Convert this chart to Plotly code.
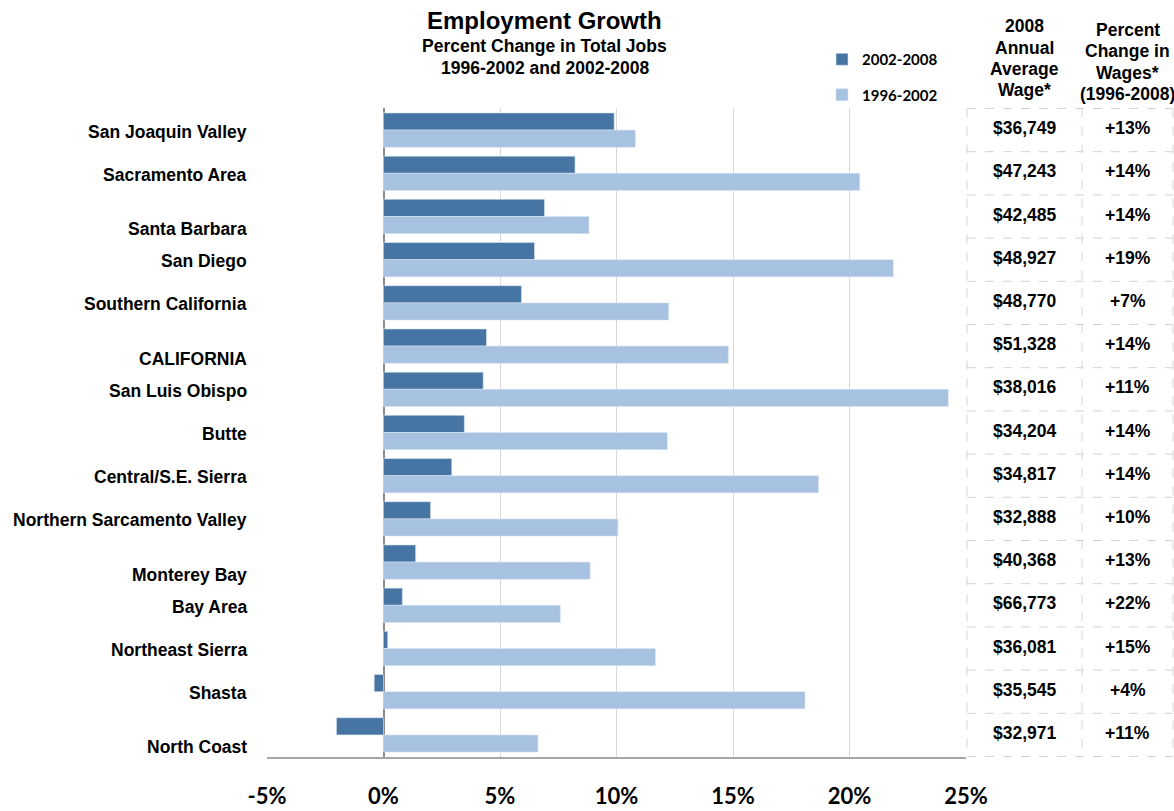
import plotly.graph_objects as go

# ---- data -------------------------------------------------------------
regions = [
    "San Joaquin Valley", "Sacramento Area", "Santa Barbara", "San Diego",
    "Southern California", "CALIFORNIA", "San Luis Obispo", "Butte",
    "Central/S.E. Sierra", "Northern Sarcamento Valley", "Monterey Bay",
    "Bay Area", "Northeast Sierra", "Shasta", "North Coast",
]
growth_2002_2008 = [9.90, 8.22, 6.91, 6.48, 5.92, 4.42, 4.28, 3.47,
                    2.93, 2.02, 1.38, 0.81, 0.18, -0.40, -2.02]
growth_1996_2002 = [10.81, 20.44, 8.82, 21.88, 12.24, 14.80, 24.24, 12.18,
                    18.67, 10.06, 8.87, 7.59, 11.67, 18.09, 6.63]
avg_wage_2008 = ["$36,749", "$47,243", "$42,485", "$48,927", "$48,770",
                 "$51,328", "$38,016", "$34,204", "$34,817", "$32,888",
                 "$40,368", "$66,773", "$36,081", "$35,545", "$32,971"]
wage_change = ["+13%", "+14%", "+14%", "+19%", "+7%", "+14%", "+11%", "+14%",
               "+14%", "+10%", "+13%", "+22%", "+15%", "+4%", "+11%"]
tick_values = [-5, 0, 5, 10, 15, 20, 25]
tick_labels = ["-5%", "0%", "5%", "10%", "15%", "20%", "25%"]

# ---- layout geometry (pixels) ----------------------------------------
W, H = 1174, 811
ML, MR, MT, MB = 267, 208, 108, 54
PW, PH = W - ML - MR, H - MT - MB


def px(x):
    """Horizontal pixel -> paper coordinate."""
    return (x - ML) / PW


def py(y):
    """Vertical pixel (from top) -> paper coordinate."""
    return (H - MB - y) / PH


DARK = "#4674a3"
LIGHT = "#a7c1e0"
ARIAL = "Liberation Sans, Arial, sans-serif"
CALIBRI = "Lato, Calibri, sans-serif"

fig = go.Figure()
fig.add_trace(go.Bar(
    y=regions, x=growth_2002_2008, orientation="h", name="2002-2008",
    legendgroup="a", marker=dict(color=DARK, line=dict(color="#dbe5f1", width=0.6)),
))
fig.add_trace(go.Bar(
    y=regions, x=growth_1996_2002, orientation="h", name="1996-2002",
    legendgroup="b", marker=dict(color=LIGHT, line=dict(color="#dbe5f1", width=0.6)),
))

annotations = []

# Region labels on the left; a few of them sit a little lower in their row
lowered = {"Santa Barbara", "CALIFORNIA", "Monterey Bay", "North Coast"}
for name in regions:
    annotations.append(dict(
        x=px(249), y=name, xref="paper", yref="y", text=name, showarrow=False,
        xanchor="right", yanchor="middle",
        yshift=-12.5 if name in lowered else -1.5,
        font=dict(family=ARIAL, size=17.5, color="black", weight="bold"),
    ))

# Wage table to the right of the chart
col1_x, col2_x = px(1024.5), px(1127.5)
for name, wage, chg in zip(regions, avg_wage_2008, wage_change):
    for cx, txt in ((col1_x, wage), (col2_x, chg)):
        annotations.append(dict(
            x=cx, y=name, xref="paper", yref="y", text=txt, showarrow=False,
            xanchor="center", yanchor="middle", yshift=2,
            font=dict(family=ARIAL, size=17.5, color="black", weight="bold"),
        ))

header1 = ["2008", "Annual", "Average", "Wage*"]
header2 = ["Percent", "Change in", "Wages*", "(1996-2008)"]
for i, line in enumerate(header1):
    annotations.append(dict(
        x=col1_x, y=py(26.5 + 21.3 * i), xref="paper", yref="paper", text=line,
        showarrow=False, xanchor="center", yanchor="middle",
        font=dict(family=ARIAL, size=17.5, color="black", weight="bold"),
    ))
for i, line in enumerate(header2):
    annotations.append(dict(
        x=col2_x, y=py(30 + 21.3 * i), xref="paper", yref="paper", text=line,
        showarrow=False, xanchor="center", yanchor="middle",
        font=dict(family=ARIAL, size=17.5, color="black", weight="bold"),
    ))

# Chart title block
title_x = px(544.5)
annotations.append(dict(
    x=title_x, y=py(21), xref="paper", yref="paper", text="Employment Growth",
    showarrow=False, xanchor="center", yanchor="middle",
    font=dict(family=ARIAL, size=24, color="black", weight="bold"),
))
for txt, yy in (("Percent Change in Total Jobs", 46.5), ("1996-2002 and 2002-2008", 68)):
    annotations.append(dict(
        x=title_x, y=py(yy), xref="paper", yref="paper", text=txt,
        showarrow=False, xanchor="center", yanchor="middle",
        font=dict(family=ARIAL, size=17.5, color="black", weight="bold"),
    ))

# Dashed grid of the wage table
shapes = []
grid_line = dict(color="#d4d4d4", width=1, dash="dash")
n = len(regions)
for k in range(n + 1):
    shapes.append(dict(type="line", xref="paper", yref="y",
                       x0=px(967), x1=px(1173), y0=k - 0.5, y1=k - 0.5,
                       line=grid_line))
for xx in (967, 1082, 1173):
    shapes.append(dict(type="line", xref="paper", yref="y",
                       x0=px(xx), x1=px(xx), y0=-0.5, y1=n - 0.5,
                       line=grid_line))

fig.update_layout(
    width=W, height=H,
    margin=dict(l=ML, r=MR, t=MT, b=MB, pad=0, autoexpand=False),
    paper_bgcolor="white", plot_bgcolor="white",
    barmode="group", bargap=0.205, bargroupgap=0,
    showlegend=True,
    legend=dict(
        x=px(822), y=py(43), xref="paper", yref="paper",
        xanchor="left", yanchor="top",
        bgcolor="rgba(0,0,0,0)", tracegroupgap=13, traceorder="grouped",
        font=dict(family=CALIBRI, size=15, color="black", weight="bold"),
    ),
    xaxis=dict(
        range=[-5, 25], tickvals=tick_values, ticktext=tick_labels,
        showgrid=True, gridcolor="#d9d9d9", gridwidth=1,
        zeroline=True, zerolinecolor="#8c8c8c", zerolinewidth=1.5,
        showline=True, linecolor="#a6a6a6", linewidth=1.5,
        ticks="", ticklabelstandoff=19, automargin=False,
        tickfont=dict(family=CALIBRI, size=22, color="black", weight="bold"),
        fixedrange=True,
    ),
    yaxis=dict(
        autorange="reversed", showticklabels=False, showgrid=False,
        zeroline=False, showline=False, ticks="", fixedrange=True,
        automargin=False,
    ),
    annotations=annotations,
    shapes=shapes,
)

fig.write_html("out.html")
